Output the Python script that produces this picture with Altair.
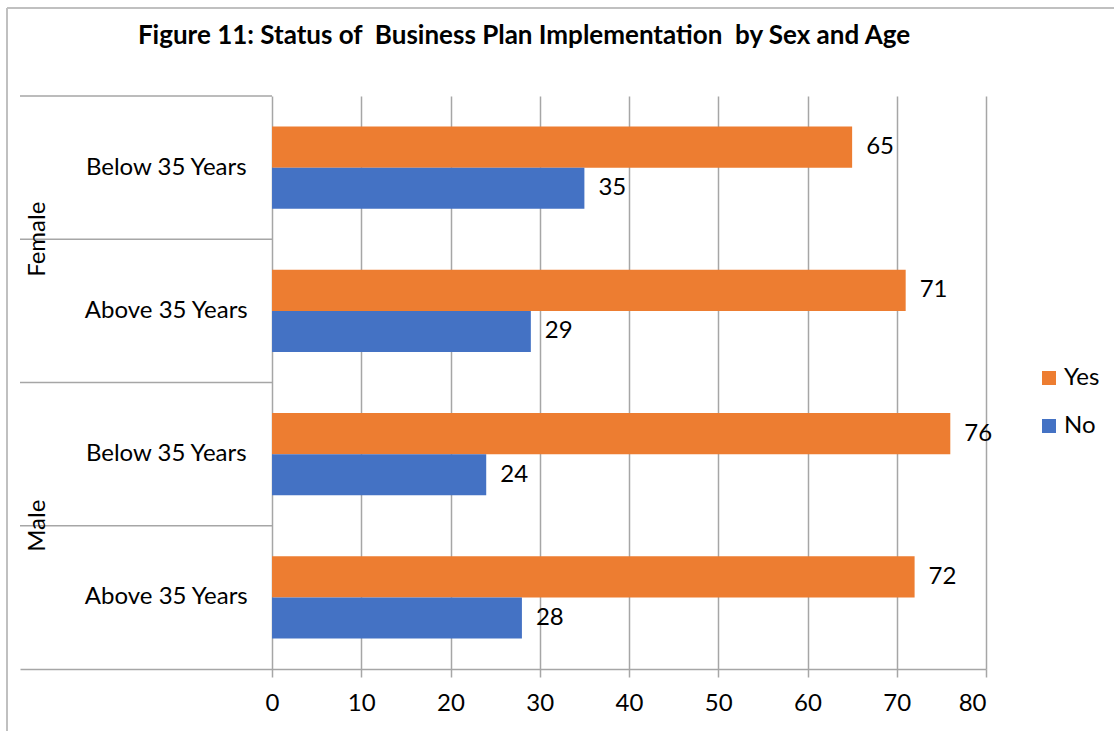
import altair as alt
import pandas as pd

# ---- data ----
groups = ["Female|Below 35 Years", "Female|Above 35 Years", "Male|Below 35 Years", "Male|Above 35 Years"]
ages = ["Below 35 Years", "Above 35 Years", "Below 35 Years", "Above 35 Years"]
sexes = ["Female", "Male"]
sex_anchor = ["Female|Above 35 Years", "Male|Above 35 Years"]
series = ["Yes", "No"]
yes_vals = [65, 71, 76, 72]
no_vals = [35, 29, 24, 28]
x_ticks = [0, 10, 20, 30, 40, 50, 60, 70, 80]

FONT = "Lato"
FS = 24
GRID = "#a6a6a6"
ORANGE = "#ED7D31"
BLUE = "#4472C4"

rows = []
for g, y, n in zip(groups, yes_vals, no_vals):
    rows.append({"grp": g, "series": "Yes", "value": y})
    rows.append({"grp": g, "series": "No", "value": n})
bars_df = pd.DataFrame(rows)
age_df = pd.DataFrame({"grp": groups, "age": ages})
sex_df = pd.DataFrame({"grp": sex_anchor, "sex": sexes})

xscale = alt.Scale(domain=[-28.24, 80], nice=False, zero=False)
xaxis = alt.Axis(values=x_ticks, grid=True, gridColor=GRID, gridWidth=1.5,
                 domainColor=GRID, domainWidth=1.5, tickColor=GRID, tickWidth=1.5,
                 tickSize=8, labelFont=FONT, labelFontSize=FS, labelColor="#000000",
                 labelPadding=14, title=None)
yscale = alt.Scale(domain=groups, paddingInner=0, paddingOuter=0)
yoff = alt.Scale(domain=series, paddingInner=0, paddingOuter=0.744)

bars = alt.Chart(bars_df).mark_bar().encode(
    x=alt.X("value:Q", scale=xscale, axis=xaxis),
    y=alt.Y("grp:N", scale=yscale, axis=None),
    yOffset=alt.YOffset("series:N", scale=yoff),
    color=alt.Color("series:N", scale=alt.Scale(domain=series, range=[ORANGE, BLUE]),
                    legend=alt.Legend(title=None, orient="none", legendX=1017, legendY=270,
                                      symbolType="square", symbolSize=196, symbolStrokeWidth=0,
                                      labelFont=FONT, labelFontSize=FS, labelColor="#000000",
                                      rowPadding=24, padding=0, labelOffset=3)),
)

labels = alt.Chart(bars_df).mark_text(align="left", baseline="middle", dx=14,
                                      font=FONT, fontSize=FS, color="#000000").encode(
    x=alt.X("value:Q", scale=xscale, axis=xaxis),
    y=alt.Y("grp:N", scale=yscale, axis=None),
    yOffset=alt.YOffset("series:N", scale=yoff),
    text=alt.Text("value:Q"),
)

seps = alt.Chart(age_df).mark_rule(color=GRID, strokeWidth=1.5).encode(
    x=alt.X(datum=-28.24, type="quantitative", scale=xscale, axis=xaxis),
    x2=alt.X2(datum=0),
    y=alt.Y("grp:N", scale=yscale, axis=None, bandPosition=0),
)

age_text = alt.Chart(age_df).mark_text(align="center", baseline="middle",
                                       font=FONT, fontSize=FS, color="#000000").encode(
    x=alt.X(datum=-11.85, type="quantitative", scale=xscale, axis=xaxis),
    y=alt.Y("grp:N", scale=yscale, axis=None),
    text="age:N",
)

sex_text = alt.Chart(sex_df).mark_text(align="center", baseline="middle", angle=270,
                                       font=FONT, fontSize=FS, color="#000000").encode(
    x=alt.X(datum=-26.2, type="quantitative", scale=xscale, axis=xaxis),
    y=alt.Y("grp:N", scale=yscale, axis=None, bandPosition=0),
    text="sex:N",
)

frame_df = pd.DataFrame({"k": [0]})
frame_left = alt.Chart(frame_df).mark_rule(color="#c0c0c0", strokeWidth=2).encode(
    x=alt.value(-13), y=alt.value(-88), y2=alt.value(640))
frame_top = alt.Chart(frame_df).mark_rule(color="#c0c0c0", strokeWidth=2).encode(
    x=alt.value(-13), x2=alt.value(1110), y=alt.value(-88))

chart = alt.layer(frame_left, frame_top, seps, bars, labels, age_text, sex_text).properties(
    width=966, height=573,
    background="#ffffff",
    padding={"left": 20, "top": 96, "right": 128, "bottom": 62},
    autosize=alt.AutoSizeParams(type="none"),
    title=alt.TitleParams("Figure 11: Status of\u00a0 Business Plan Implementation\u00a0 by Sex and Age",
                          font=FONT, fontSize=26, fontWeight="bold", color="#000000",
                          anchor="middle", frame="group", dx=21, offset=-42),
).configure_view(strokeWidth=0)

chart.save("out.html", embed_options={"renderer": "svg", "actions": False})
